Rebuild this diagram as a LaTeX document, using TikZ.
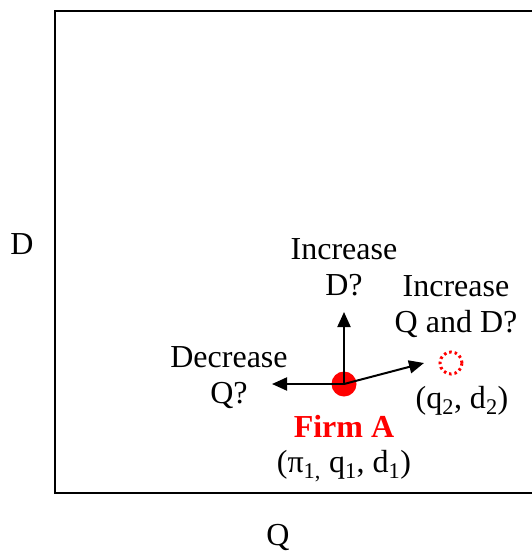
\documentclass[tikz,border=0pt]{standalone}
\usepackage{fontspec}
\setmainfont{Liberation Serif}
\usepackage{xcolor}
\definecolor{firmred}{RGB}{255,0,0}
\usetikzlibrary{arrows.meta,positioning}

\begin{document}
\begin{tikzpicture}[x=1pt,y=-1pt,
  lbl/.style={font=\fontsize{32}{36}\selectfont, align=center, inner sep=0pt},
  move/.style={-{Triangle[length=15pt,width=13pt]}, line width=2pt}]
  \useasboundingbox (0,0) rectangle (531,555);

  %% Frame of the (Q,D) space
  \draw[line width=2pt] (545,11) -- (55,11) -- (55,493) -- (545,493);
  \node[lbl] (dlabel) at (22,244) {D};
  \node[lbl] (qlabel) at (278,537) {Q};

  %% Firm A and its possible moves
  \node[circle, fill=firmred, minimum size=25pt, inner sep=0pt] (firm) at (344,384) {};
  \node[circle, draw=firmred, dash pattern=on 2.5pt off 3pt, line width=3pt, minimum size=22pt, inner sep=0pt] (target) at (451,363) {};
  \coordinate (upend) at (344,312);
  \coordinate (leftend) at (272,384);
  \coordinate (diagend) at (424,363);
  \draw[move] (firm.center) -- (upend);
  \draw[move] (firm.center) -- (leftend);
  \draw[move] (firm.center) -- (diagend);

  %% Labels
  \node[lbl, anchor=base] (incd) at (344,295) {Increase\\D?};
  \node[lbl, anchor=base] (incqd) at (456,332) {Increase\\Q and D?};
  \node[lbl, anchor=base] (decq) at (229,403) {Decrease\\Q?};
  \node[lbl, anchor=base] (newpos) at (462,408) {(q\textsubscript{2}, d\textsubscript{2})};
  \node[lbl, anchor=base, font=\fontsize{32}{36}\selectfont\bfseries, text=firmred] (firmname) at (344,437) {Firm A};
  \node[lbl, anchor=base] (oldpos) at (344,472) {(π\textsubscript{1,} q\textsubscript{1}, d\textsubscript{1})};
\end{tikzpicture}
\end{document}
